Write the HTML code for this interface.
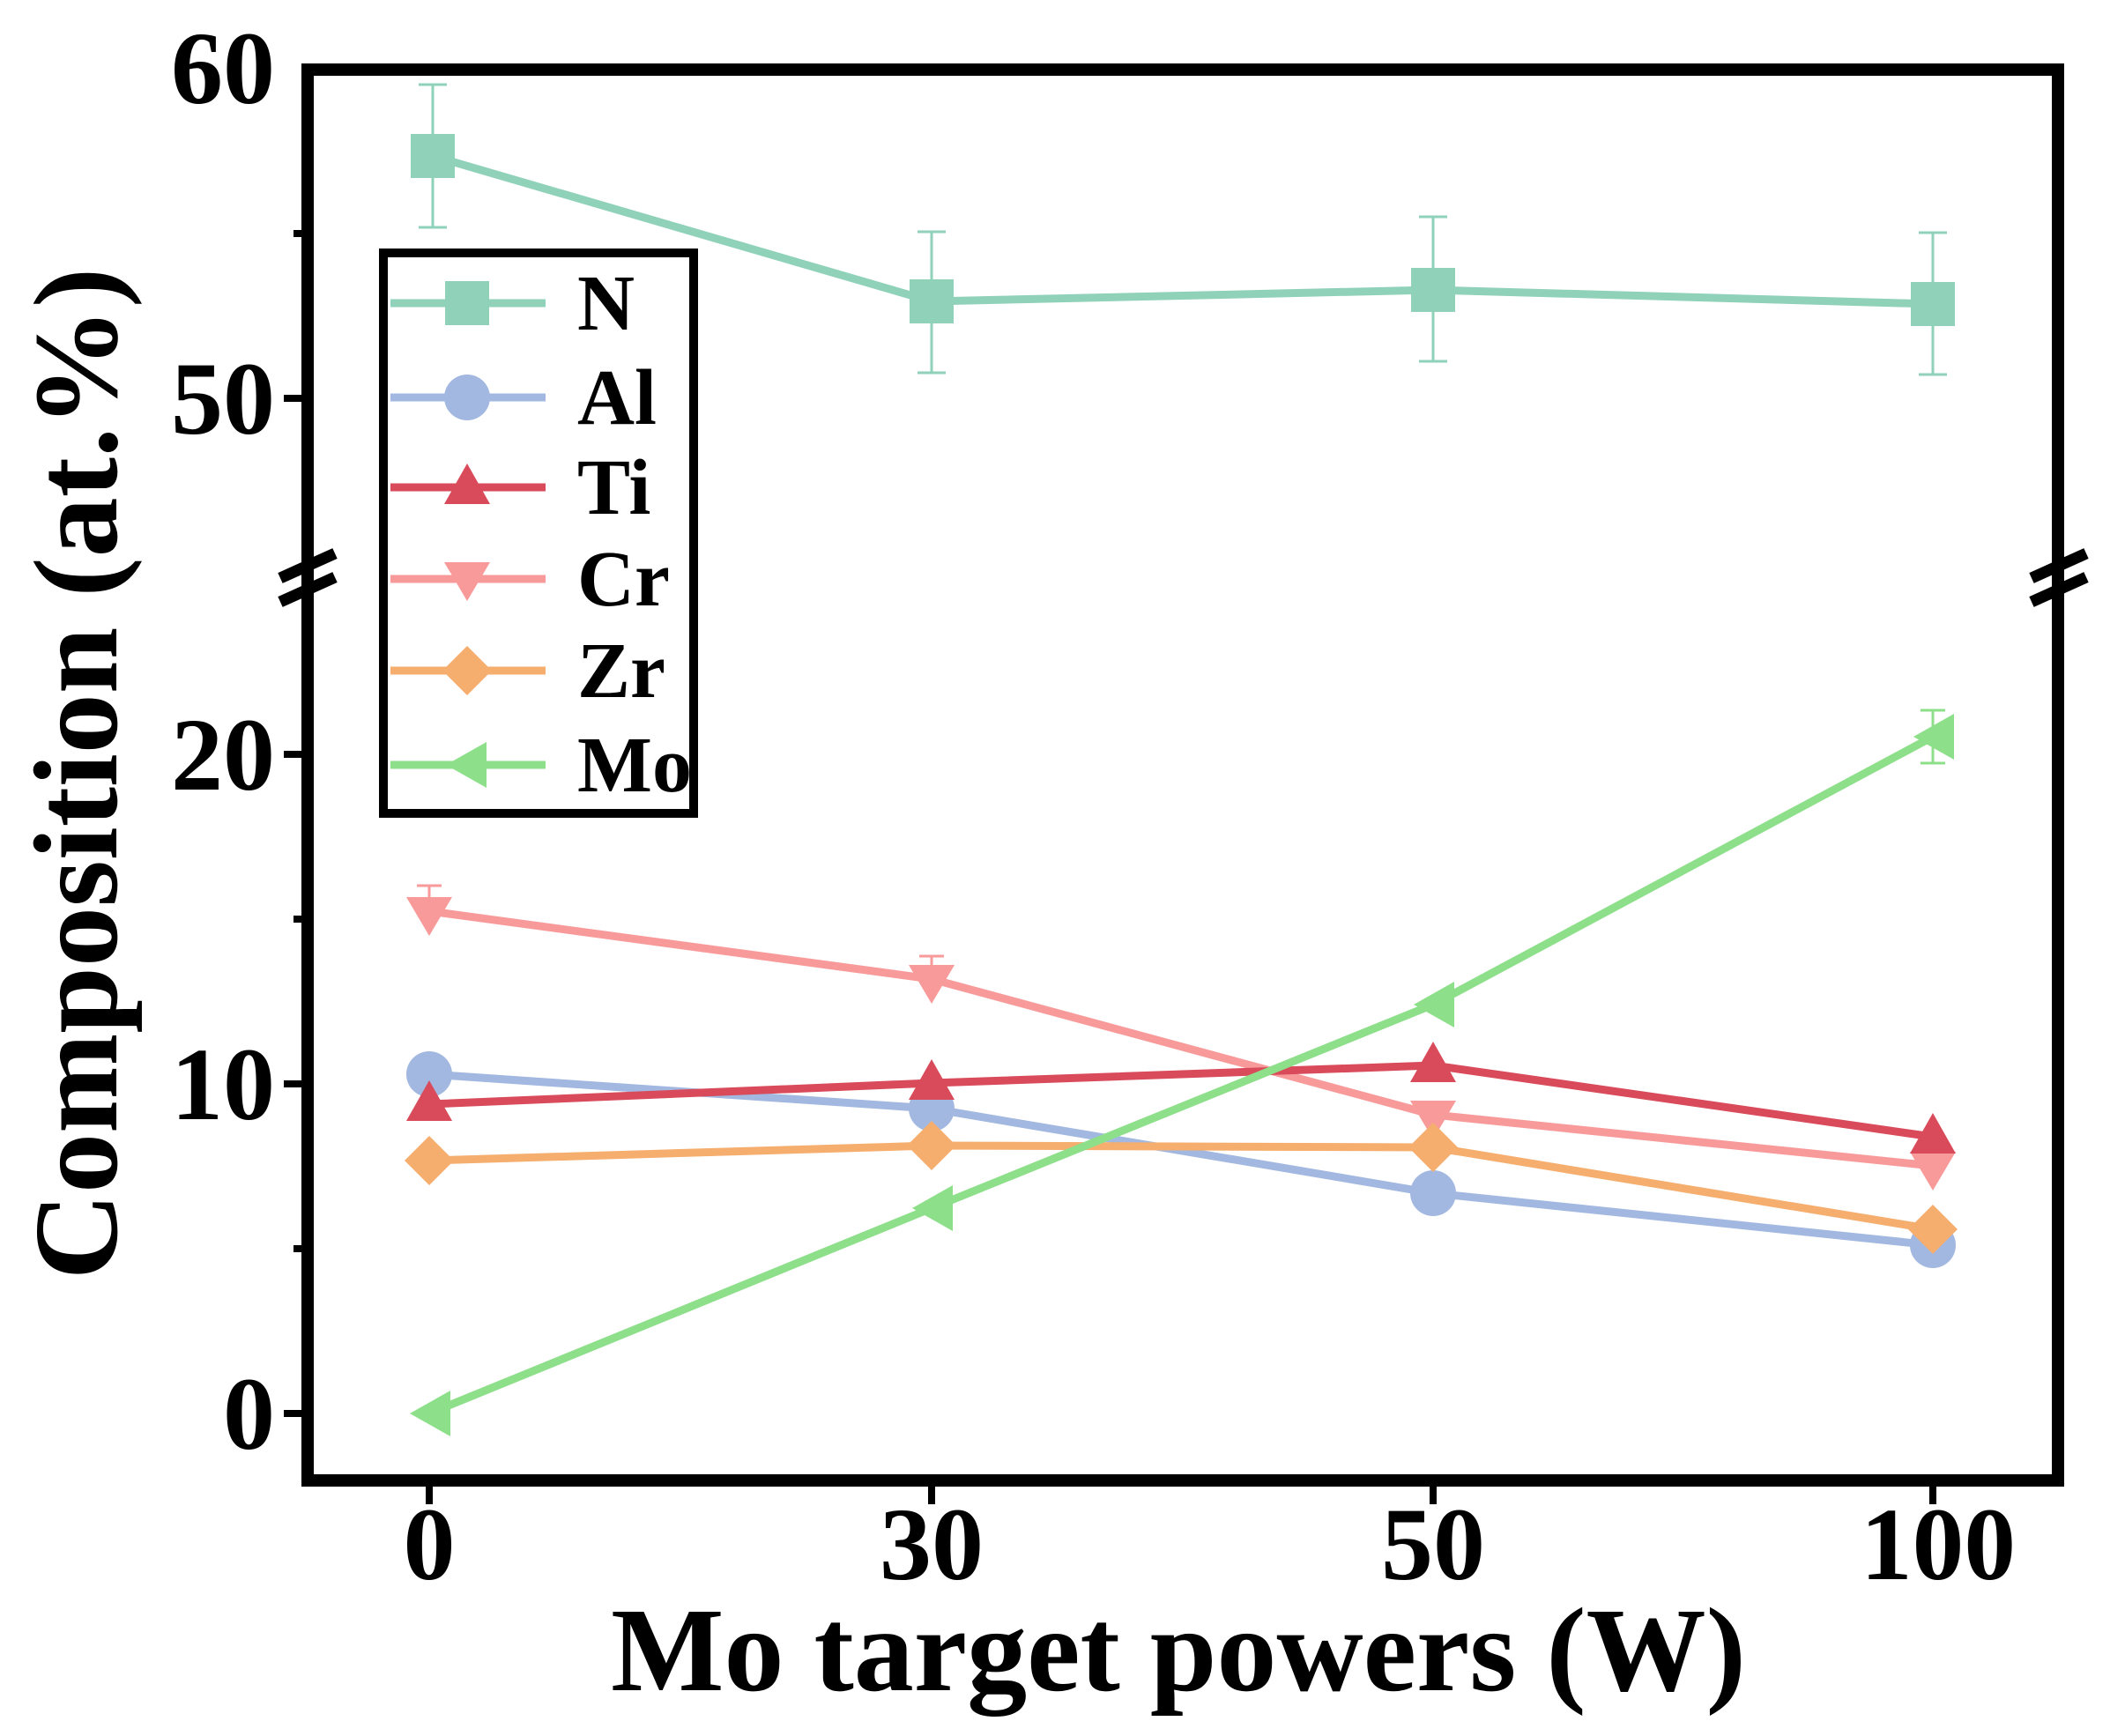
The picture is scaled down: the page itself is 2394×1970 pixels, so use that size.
<!DOCTYPE html>
<html><head><meta charset="utf-8"><style>
html,body{margin:0;padding:0;background:#fff}
svg{display:block}
text{font-family:"Liberation Serif",serif;font-weight:bold;fill:#000}
</style></head><body>
<svg width="2394" height="1970" viewBox="0 0 2394 1970" xmlns="http://www.w3.org/2000/svg">
<rect x="349" y="79" width="1986" height="1601" fill="none" stroke="#000" stroke-width="14"/>
<g stroke="#000" stroke-width="13">
<line x1="318" y1="656" x2="380" y2="628"/>
<line x1="318" y1="683" x2="380" y2="655"/>
<line x1="2305" y1="656" x2="2367" y2="628"/>
<line x1="2305" y1="683" x2="2367" y2="655"/>
</g>
<g stroke="#000" stroke-width="8">
<line x1="322" y1="452" x2="349" y2="452"/>
<line x1="333" y1="265" x2="349" y2="265"/>
<line x1="322" y1="856" x2="349" y2="856"/>
<line x1="322" y1="1230" x2="349" y2="1230"/>
<line x1="322" y1="1604" x2="349" y2="1604"/>
<line x1="333" y1="1043" x2="349" y2="1043"/>
<line x1="333" y1="1417" x2="349" y2="1417"/>
<line x1="487" y1="1680" x2="487" y2="1707"/>
<line x1="1057" y1="1680" x2="1057" y2="1707"/>
<line x1="1626" y1="1680" x2="1626" y2="1707"/>
<line x1="2193" y1="1680" x2="2193" y2="1707"/>
</g>
<g font-size="118" text-anchor="end">
<text x="312" y="117">60</text>
<text x="312" y="492">50</text>
<text x="312" y="896">20</text>
<text x="312" y="1270">10</text>
<text x="312" y="1644">0</text>
</g>
<g font-size="118" text-anchor="middle">
<text x="487" y="1792">0</text>
<text x="1057" y="1792">30</text>
<text x="1626" y="1792">50</text>
<text x="2199" y="1792" textLength="176" lengthAdjust="spacingAndGlyphs">100</text>
</g>
<text x="1337" y="1918" font-size="136" text-anchor="middle">Mo target powers (W)</text>
<text transform="translate(132,878) rotate(-90)" font-size="136" text-anchor="middle">Composition (at.%)</text>

<g stroke="#8fd1b9" stroke-width="3">
<line x1="491" y1="96" x2="491" y2="258"/><line x1="475" y1="96" x2="507" y2="96"/><line x1="475" y1="258" x2="507" y2="258"/>
<line x1="1057" y1="263" x2="1057" y2="423"/><line x1="1041" y1="263" x2="1073" y2="263"/><line x1="1041" y1="423" x2="1073" y2="423"/>
<line x1="1626" y1="246" x2="1626" y2="410"/><line x1="1610" y1="246" x2="1642" y2="246"/><line x1="1610" y1="410" x2="1642" y2="410"/>
<line x1="2193" y1="264" x2="2193" y2="425"/><line x1="2177" y1="264" x2="2209" y2="264"/><line x1="2177" y1="425" x2="2209" y2="425"/>
</g>
<g stroke-width="3">
<line x1="487" y1="1005" x2="487" y2="1060" stroke="#f99a9a"/><line x1="473" y1="1005" x2="501" y2="1005" stroke="#f99a9a"/>
<line x1="1057" y1="1085" x2="1057" y2="1135" stroke="#f99a9a"/><line x1="1043" y1="1085" x2="1071" y2="1085" stroke="#f99a9a"/>
<line x1="2193" y1="806" x2="2193" y2="866" stroke="#8ddf8a"/><line x1="2179" y1="806" x2="2207" y2="806" stroke="#8ddf8a"/><line x1="2179" y1="866" x2="2207" y2="866" stroke="#8ddf8a"/>
</g>
<g fill="none" stroke-width="9">
<polyline stroke="#8fd1b9" points="491,177 1057,342 1626,329 2193,345"/>
<polyline stroke="#f99a9a" points="487,1034 1057,1111 1626,1265 2193,1323"/>
<polyline stroke="#a2b8e0" points="487,1219 1057,1258 1626,1354 2193,1413"/>
<polyline stroke="#f5ae6e" points="487,1317 1057,1300 1626,1302 2193,1395"/>
<polyline stroke="#d94a5a" points="487,1253 1057,1229 1626,1209 2193,1290"/>
<polyline stroke="#8ddf8a" points="487,1604 1057,1371 1626,1140 2193,836"/>
</g>
<g fill="#8fd1b9">
<rect x="466" y="152" width="50" height="50"/><rect x="1032" y="317" width="50" height="50"/><rect x="1601" y="304" width="50" height="50"/><rect x="2168" y="320" width="50" height="50"/>
</g>
<g fill="#a2b8e0">
<circle cx="487" cy="1219" r="26"/><circle cx="1057" cy="1258" r="26"/><circle cx="1626" cy="1354" r="26"/><circle cx="2193" cy="1413" r="26"/>
</g>
<g fill="#f99a9a">
<polygon points="461,1018 513,1018 487,1062"/><polygon points="1031,1095 1083,1095 1057,1139"/><polygon points="1600,1249 1652,1249 1626,1293"/><polygon points="2167,1307 2219,1307 2193,1351"/>
</g>
<g fill="#f5ae6e">
<polygon points="487,1289 515,1317 487,1345 459,1317"/><polygon points="1057,1272 1085,1300 1057,1328 1029,1300"/><polygon points="1626,1274 1654,1302 1626,1330 1598,1302"/><polygon points="2193,1367 2221,1395 2193,1423 2165,1395"/>
</g>
<g fill="#d94a5a">
<polygon points="461,1272 513,1272 487,1226"/><polygon points="1031,1248 1083,1248 1057,1202"/><polygon points="1600,1228 1652,1228 1626,1182"/><polygon points="2167,1309 2219,1309 2193,1263"/>
</g>
<g fill="#8ddf8a">
<polygon points="465,1604 511,1578 511,1630"/><polygon points="1035,1371 1081,1345 1081,1397"/><polygon points="1604,1140 1650,1114 1650,1166"/><polygon points="2171,836 2217,810 2217,862"/>
</g>

<rect x="435" y="287" width="352" height="636" fill="#fff" stroke="#000" stroke-width="10"/>
<g stroke-width="9">
<line x1="443" y1="344" x2="619" y2="344" stroke="#8fd1b9"/>
<line x1="443" y1="451" x2="619" y2="451" stroke="#a2b8e0"/>
<line x1="443" y1="553" x2="619" y2="553" stroke="#d94a5a"/>
<line x1="443" y1="657" x2="619" y2="657" stroke="#f99a9a"/>
<line x1="443" y1="761" x2="619" y2="761" stroke="#f5ae6e"/>
<line x1="443" y1="868" x2="619" y2="868" stroke="#8ddf8a"/>
</g>
<rect x="505" y="319" width="50" height="50" fill="#8fd1b9"/>
<circle cx="530" cy="451" r="26" fill="#a2b8e0"/>
<polygon points="504,572 556,572 530,526" fill="#d94a5a"/>
<polygon points="504,638 556,638 530,682" fill="#f99a9a"/>
<polygon points="530,733 558,761 530,789 502,761" fill="#f5ae6e"/>
<polygon points="506,868 552,842 552,894" fill="#8ddf8a"/>
<g font-size="90">
<text x="655" y="374">N</text>
<text x="655" y="481">Al</text>
<text x="655" y="583">Ti</text>
<text x="655" y="687">Cr</text>
<text x="655" y="791">Zr</text>
<text x="655" y="898">Mo</text>
</g>
</svg>
</body></html>
